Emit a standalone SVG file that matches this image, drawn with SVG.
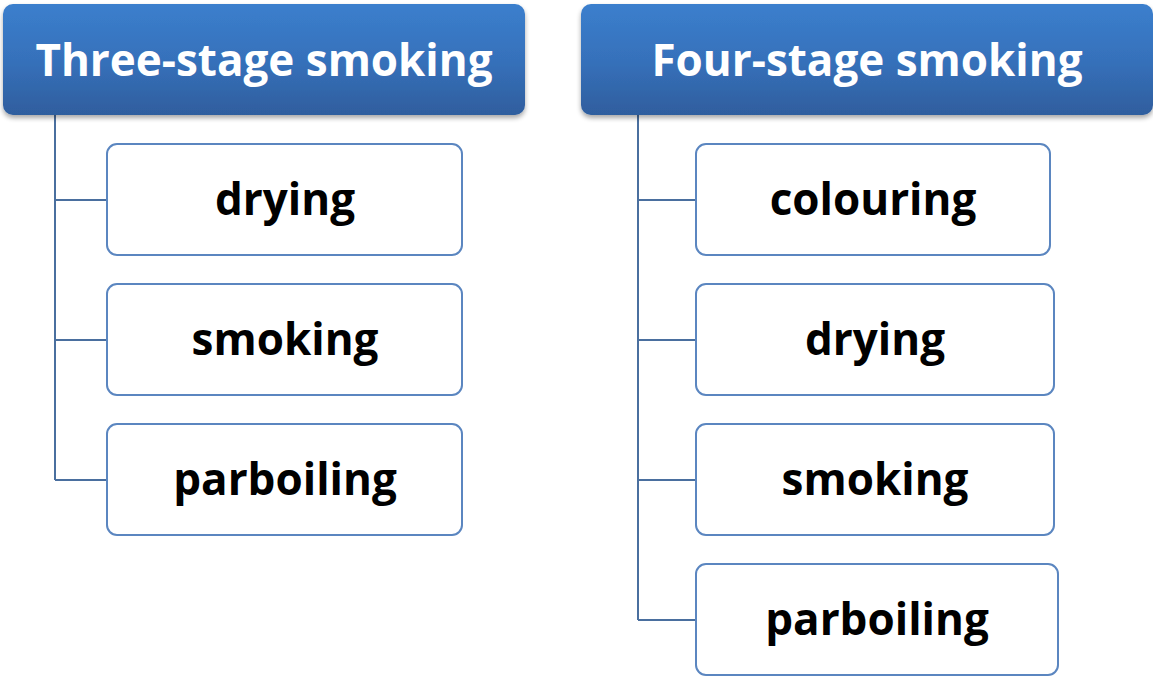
<svg xmlns="http://www.w3.org/2000/svg" width="1153" height="676" viewBox="0 0 1153 676">
  <style>
    .head rect { fill: url(#headFill); filter: url(#shadow); }
    .head text { font-family: "Open Sans", "Noto Sans", sans-serif; font-weight: bold; font-size: 44px; fill: #ffffff; text-anchor: middle; }
    .item rect { fill: #ffffff; stroke: #5b86c0; stroke-width: 2; }
    .item text { font-family: "Open Sans", "Noto Sans", sans-serif; font-weight: bold; font-size: 44px; fill: #000000; text-anchor: middle; }
    .wire { fill: none; stroke: #4a6f9f; stroke-width: 2; }
  </style>
  <defs>
    <linearGradient id="headFill" x1="0" y1="0" x2="0" y2="1">
      <stop offset="0" stop-color="#3b7fcd"/>
      <stop offset="0.5" stop-color="#3671bb"/>
      <stop offset="1" stop-color="#2f5e9e"/>
    </linearGradient>
    <filter id="shadow" x="-5%" y="-10%" width="110%" height="130%">
      <feGaussianBlur in="SourceAlpha" stdDeviation="2.5"/>
      <feOffset dy="3" result="b"/>
      <feComponentTransfer><feFuncA type="linear" slope="0.35"/></feComponentTransfer>
      <feMerge><feMergeNode/><feMergeNode in="SourceGraphic"/></feMerge>
    </filter>
  </defs>

  <!-- connectors -->
  <g id="connectors" class="wire">
    <path d="M55 115 V480 M55 200 H107 M55 340 H107 M55 480 H107"/>
    <path d="M638 115 V620 M638 200 H696 M638 340 H696 M638 480 H696 M638 620 H696"/>
  </g>

  <!-- headers -->
  <g id="three-stage" class="head">
    <rect x="3" y="4" width="522" height="111" rx="10"/>
    <text x="264" y="76">Three-stage smoking</text>
  </g>
  <g id="four-stage" class="head">
    <rect x="581" y="4" width="572" height="111" rx="10"/>
    <text x="867" y="76">Four-stage smoking</text>
  </g>

  <!-- three-stage steps -->
  <g id="t-drying" class="item">
    <rect x="107" y="144" width="355" height="111" rx="10"/>
    <text x="285" y="215">drying</text>
  </g>
  <g id="t-smoking" class="item">
    <rect x="107" y="284" width="355" height="111" rx="10"/>
    <text x="285" y="355">smoking</text>
  </g>
  <g id="t-parboiling" class="item">
    <rect x="107" y="424" width="355" height="111" rx="10"/>
    <text x="285" y="495">parboiling</text>
  </g>

  <!-- four-stage steps -->
  <g id="f-colouring" class="item">
    <rect x="696" y="144" width="354" height="111" rx="10"/>
    <text x="873" y="215">colouring</text>
  </g>
  <g id="f-drying" class="item">
    <rect x="696" y="284" width="358" height="111" rx="10"/>
    <text x="875" y="355">drying</text>
  </g>
  <g id="f-smoking" class="item">
    <rect x="696" y="424" width="358" height="111" rx="10"/>
    <text x="875" y="495">smoking</text>
  </g>
  <g id="f-parboiling" class="item">
    <rect x="696" y="564" width="362" height="111" rx="10"/>
    <text x="877" y="635">parboiling</text>
  </g>
</svg>
